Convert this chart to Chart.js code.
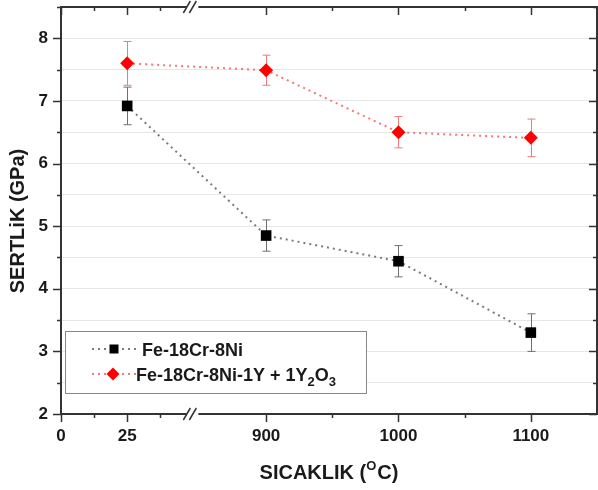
<!DOCTYPE html>
<html>
<head>
<meta charset="utf-8">
<script src="https://cdn.jsdelivr.net/npm/chart.js@4.4.0/dist/chart.umd.min.js"></script>
<style>
  html, body { margin: 0; padding: 0; background: #fff; }
  #wrap { width: 598px; height: 490px; }
</style>
</head>
<body>
<div id="wrap"><canvas id="chart"></canvas></div>
<script>
// Values
const temps = [25, 900, 1000, 1100];
const steelHardness = [6.92, 4.85, 4.44, 3.30];
const steelErr = [0.30, 0.25, 0.25, 0.30];
const odsHardness = [7.60, 7.49, 6.50, 6.41];
const odsErr = [0.35, 0.24, 0.25, 0.30];

const xTickTemps = [0, 25, 900, 1000, 1100];
const xMinorTemps = [12.5, 37.5, 950, 1050];

const FONT = '"Liberation Sans", Arial, sans-serif';
const TEXT = '#1a1a1a';
const AXIS = '#333';
const GREY_LINE = '#7a7a7a';
const RED_LINE = '#f07a7a';

// Broken x axis: 0-50 on the left piece, 900-1150 on the right piece
function axisPos(t) {
  return t <= 50 ? t / 25 : 3.1 + (t - 900) / 50;
}

function points(vals) {
  return temps.map((t, i) => ({ x: axisPos(t), y: vals[i] }));
}

// Error bars
const errorBars = {
  id: 'errorBars',
  beforeDatasetsDraw(chart) {
    const ctx = chart.ctx;
    const xs = chart.scales.x, ys = chart.scales.y;
    const sets = [
      [steelHardness, steelErr, '#6f6f6f'],
      [odsHardness, odsErr, RED_LINE]
    ];
    ctx.save();
    ctx.lineWidth = 1;
    sets.forEach(([vals, errs, color]) => {
      ctx.strokeStyle = color;
      temps.forEach((t, i) => {
        const px = Math.round(xs.getPixelForValue(axisPos(t))) + 0.5;
        const top = ys.getPixelForValue(vals[i] + errs[i]);
        const bot = ys.getPixelForValue(vals[i] - errs[i]);
        ctx.beginPath();
        ctx.moveTo(px, top); ctx.lineTo(px, bot);
        ctx.moveTo(px - 4, top); ctx.lineTo(px + 4, top);
        ctx.moveTo(px - 4, bot); ctx.lineTo(px + 4, bot);
        ctx.stroke();
      });
    });
    ctx.restore();
  }
};

function drawSquare(ctx, x, y, s) {
  ctx.fillStyle = '#000';
  ctx.fillRect(x - s / 2, y - s / 2, s, s);
}

function drawDiamond(ctx, x, y, r) {
  ctx.fillStyle = '#ff0000';
  ctx.beginPath();
  ctx.moveTo(x, y - r); ctx.lineTo(x + r, y);
  ctx.lineTo(x, y + r); ctx.lineTo(x - r, y);
  ctx.closePath();
  ctx.fill();
}

// Frame, ticks, axis break, titles and legend
const decorations = {
  id: 'decorations',
  afterDraw(chart) {
    const ctx = chart.ctx;
    const a = chart.chartArea;
    const xs = chart.scales.x, ys = chart.scales.y;
    ctx.save();

    // frame
    ctx.strokeStyle = AXIS;
    ctx.lineWidth = 2;
    ctx.strokeRect(a.left, a.top, a.right - a.left, a.bottom - a.top);

    // y ticks: outward on left, inward on right
    ctx.lineWidth = 1.5;
    ctx.beginPath();
    for (let v = 2; v <= 8.5; v += 0.5) {
      const py = Math.round(ys.getPixelForValue(v)) + 0.5;
      const len = Number.isInteger(v) ? 8 : 4;
      ctx.moveTo(a.left, py); ctx.lineTo(a.left - len, py);
      ctx.moveTo(a.right, py); ctx.lineTo(a.right - len, py);
    }
    // x ticks: outward on bottom, inward on top
    const xt = xTickTemps.map(t => [t, 8]).concat(xMinorTemps.map(t => [t, 4]));
    xt.forEach(([t, len]) => {
      const px = Math.round(xs.getPixelForValue(axisPos(t))) + 0.5;
      ctx.moveTo(px, a.bottom); ctx.lineTo(px, a.bottom + len);
      ctx.moveTo(px, a.top); ctx.lineTo(px, a.top + len);
    });
    ctx.stroke();

    // axis break marks
    const bx = xs.getPixelForValue(2.0);
    [a.top, a.bottom].forEach(yy => {
      ctx.fillStyle = '#fff';
      ctx.fillRect(bx - 7, yy - 2, 12, 4);
      ctx.strokeStyle = AXIS;
      ctx.lineWidth = 1.5;
      ctx.beginPath();
      ctx.moveTo(bx - 10, yy + 6); ctx.lineTo(bx - 3, yy - 6);
      ctx.moveTo(bx - 4, yy + 6); ctx.lineTo(bx + 3, yy - 6);
      ctx.stroke();
    });

    // x axis title with superscript
    ctx.fillStyle = TEXT;
    ctx.textBaseline = 'alphabetic';
    ctx.textAlign = 'left';
    const big = 'bold 20px ' + FONT, small = 'bold 13px ' + FONT;
    ctx.font = big;
    const p1 = 'SICAKLIK (', p3 = 'C)';
    const w1 = ctx.measureText(p1).width, w3 = ctx.measureText(p3).width;
    ctx.font = small;
    const w2 = ctx.measureText('O').width + 1;
    let tx = (a.left + a.right) / 2 - (w1 + w2 + w3) / 2;
    const ty = 479;
    ctx.font = big; ctx.fillText(p1, tx, ty);
    ctx.font = small; ctx.fillText('O', tx + w1, ty - 9);
    ctx.font = big; ctx.fillText(p3, tx + w1 + w2, ty);

    // y axis title
    ctx.save();
    ctx.translate(24, 221);
    ctx.rotate(-Math.PI / 2);
    ctx.textAlign = 'center';
    ctx.font = big;
    ctx.fillText('SERTLiK (GPa)', 0, 0);
    ctx.restore();

    // legend box
    ctx.fillStyle = '#fff';
    ctx.fillRect(65, 331, 301, 62);
    ctx.strokeStyle = '#888';
    ctx.lineWidth = 1;
    ctx.strokeRect(65.5, 331.5, 301, 62);

    const rows = [
      { y: 349, color: GREY_LINE },
      { y: 374, color: RED_LINE }
    ];
    rows.forEach((r, i) => {
      ctx.strokeStyle = r.color;
      ctx.lineWidth = 2;
      ctx.setLineDash([2, 4]);
      ctx.beginPath();
      ctx.moveTo(92, r.y); ctx.lineTo(137, r.y);
      ctx.stroke();
      ctx.setLineDash([]);
      if (i === 0) drawSquare(ctx, 114, r.y, 9);
      else drawDiamond(ctx, 113, r.y, 6.5);
    });

    ctx.fillStyle = TEXT;
    ctx.textAlign = 'left';
    ctx.font = 'bold 18px ' + FONT;
    ctx.fillText('Fe-18Cr-8Ni', 142, 356);
    let lx = 136;
    const ly = 381;
    const main = 'Fe-18Cr-8Ni-1Y + 1Y';
    ctx.fillText(main, lx, ly);
    lx += ctx.measureText(main).width;
    ctx.font = 'bold 13px ' + FONT;
    ctx.fillText('2', lx, ly + 5);
    lx += ctx.measureText('2').width;
    ctx.font = 'bold 18px ' + FONT;
    ctx.fillText('O', lx, ly);
    lx += ctx.measureText('O').width;
    ctx.font = 'bold 13px ' + FONT;
    ctx.fillText('3', lx, ly + 5);

    ctx.restore();
  }
};

new Chart(document.getElementById('chart'), {
  type: 'scatter',
  data: {
    datasets: [
      {
        label: 'Fe-18Cr-8Ni',
        data: points(steelHardness),
        showLine: true,
        borderColor: GREY_LINE,
        borderWidth: 2,
        borderDash: [2, 4],
        pointStyle: 'rect',
        pointRadius: 7.5,
        pointBackgroundColor: '#000',
        pointBorderColor: '#000',
        pointBorderWidth: 0
      },
      {
        label: 'Fe-18Cr-8Ni-1Y + 1Y2O3',
        data: points(odsHardness),
        showLine: true,
        borderColor: RED_LINE,
        borderWidth: 2,
        borderDash: [2, 4],
        pointStyle: 'rectRot',
        pointRadius: 7,
        pointBackgroundColor: '#ff0000',
        pointBorderColor: '#ff0000',
        pointBorderWidth: 0
      }
    ]
  },
  options: {
    responsive: true,
    maintainAspectRatio: false,
    animation: false,
    layout: { autoPadding: false, padding: { top: 7, right: 1, left: 0, bottom: 0 } },
    plugins: {
      legend: { display: false },
      tooltip: { enabled: false }
    },
    scales: {
      x: {
        type: 'linear',
        min: 0,
        max: 8.1,
        grid: { display: false, drawTicks: false },
        border: { display: false },
        afterBuildTicks: scale => {
          scale.ticks = xTickTemps.map(t => ({ value: axisPos(t), label: String(t) }));
        },
        afterFit: scale => {
          scale.height = 76;
          scale.paddingLeft = 0;
          scale.paddingRight = 0;
        },
        ticks: {
          autoSkip: false,
          maxRotation: 0,
          padding: 12,
          color: TEXT,
          font: { family: FONT, size: 17, weight: 'bold' },
          callback: (value, i) => String(xTickTemps[i])
        }
      },
      y: {
        min: 2,
        max: 8.5,
        grid: { color: '#e6e6e6', lineWidth: 1, drawTicks: false },
        border: { display: false },
        afterFit: scale => {
          scale.width = 61;
          scale.paddingTop = 0;
          scale.paddingBottom = 0;
        },
        ticks: {
          stepSize: 0.5,
          padding: 13,
          color: TEXT,
          font: { family: FONT, size: 17, weight: 'bold' },
          callback: value => Number.isInteger(value) ? String(value) : ''
        }
      }
    }
  },
  plugins: [errorBars, decorations]
});
</script>
</body>
</html>
